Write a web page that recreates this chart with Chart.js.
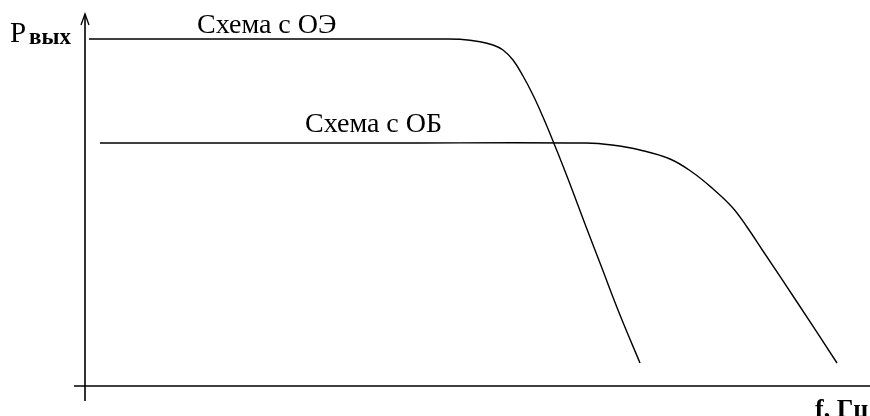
<!DOCTYPE html>
<html>
<head>
<meta charset="utf-8">
<script src="https://cdn.jsdelivr.net/npm/chart.js@4/dist/chart.umd.min.js"></script>
<style>
  html, body { margin: 0; padding: 0; background: #fff; }
  #wrap { width: 870px; height: 416px; }
  .preload { font-family: "Liberation Serif"; position: absolute; left: -999px; }
</style>
</head>
<body>
<div class="preload">Схема <b>вых</b></div>
<div id="wrap"><canvas id="chart"></canvas></div>
<script>
// frequency response sketch (arbitrary units)
const seriesNames = ["Схема с ОЭ", "Схема с ОБ"]
const xOE = [3, 200, 354, 374, 394, 407, 417, 427, 437, 447, 457, 467, 477, 487, 499, 514, 534, 554]
const yOE = [346, 346, 346, 345.7, 343.3, 340, 335, 325, 309, 290, 268, 244, 219, 193, 161, 122, 70, 22]
const xOB = [14, 300, 500, 526, 554, 584, 606, 626, 646, 661, 677, 711, 751]
const yOB = [242, 242, 242, 240, 235, 226, 213, 197, 178, 158, 134, 83, 22]
const yAxisTitle = ["P", "вых"]
const xAxisTitle = "f, Гц"

const serif = "'Liberation Serif', 'Times New Roman', serif"
const pts = (xs, ys) => xs.map((x, i) => ({ x, y: ys[i] }))

// axes with arrow + text labels
const sketchAxes = {
  id: "sketchAxes",
  afterDatasetsDraw(chart) {
    const { ctx, chartArea: a, scales: { x, y } } = chart
    ctx.save()
    ctx.strokeStyle = "#000"
    ctx.lineWidth = 1.6
    ctx.beginPath()
    ctx.moveTo(a.left - 12, a.bottom + 1)
    ctx.lineTo(a.right, a.bottom + 1)
    ctx.moveTo(a.left - 1, a.bottom + 16)
    ctx.lineTo(a.left - 1, a.top - 1)
    ctx.stroke()
    ctx.lineWidth = 1.3
    ctx.beginPath()
    ctx.moveTo(a.left - 5, a.top + 10)
    ctx.lineTo(a.left - 1, a.top - 1)
    ctx.lineTo(a.left + 3, a.top + 10)
    ctx.stroke()

    ctx.fillStyle = "#000"
    ctx.textBaseline = "alphabetic"
    ctx.textAlign = "left"
    ctx.font = "28px " + serif
    ctx.fillText(seriesNames[0], x.getPixelForValue(111), y.getPixelForValue(352))
    ctx.fillText(seriesNames[1], x.getPixelForValue(219), y.getPixelForValue(253))

    ctx.font = "29px " + serif
    ctx.fillText(yAxisTitle[0], 10, 42)
    ctx.font = "bold 23px " + serif
    ctx.fillText(yAxisTitle[1], 29, 44)

    ctx.font = "bold 26px " + serif
    ctx.fillText(xAxisTitle, 815, 417)
    ctx.restore()
  }
}

function draw() {
  new Chart(document.getElementById("chart"), {
    type: "line",
    data: {
      datasets: [
        { label: seriesNames[0], data: pts(xOE, yOE) },
        { label: seriesNames[1], data: pts(xOB, yOB) },
      ],
    },
    options: {
      responsive: true,
      maintainAspectRatio: false,
      animation: false,
      layout: { padding: { left: 86, top: 15, right: 0, bottom: 31 } },
      elements: {
        point: { radius: 0 },
        line: { borderColor: "#000", borderWidth: 1.4, tension: 0.4 },
      },
      plugins: { legend: { display: false }, tooltip: { enabled: false } },
      scales: {
        x: { type: "linear", min: 0, max: 784, display: false },
        y: { type: "linear", min: 0, max: 370, display: false },
      },
    },
    plugins: [sketchAxes],
  })
}

Promise.all([
  document.fonts.load("25px 'Liberation Serif'"),
  document.fonts.load("bold 22px 'Liberation Serif'"),
]).then(draw, draw)
</script>
</body>
</html>
